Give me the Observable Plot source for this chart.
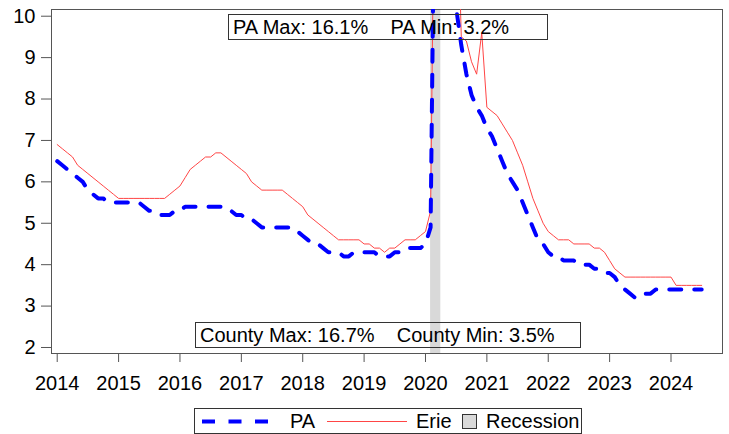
<!DOCTYPE html>
<html>
<head>
<meta charset="utf-8">
<script src="https://cdn.jsdelivr.net/npm/d3@7"></script>
<script src="https://cdn.jsdelivr.net/npm/@observablehq/plot@0.6"></script>
<style>
  html, body { margin: 0; padding: 0; background: #fff; }
  #wrap { position: relative; width: 729px; height: 434px; font-family: "Liberation Sans", Arial, sans-serif; color: #000; }
  #wrap svg text { font-family: "Liberation Sans", Arial, sans-serif; }
  .note { position: absolute; box-sizing: border-box; border: 1px solid #333; font-size: 20px; line-height: 24px; white-space: pre; padding-left: 4px; }
  #legend { position: absolute; left: 194px; top: 408px; width: 388px; height: 26px; box-sizing: border-box; border: 1px solid #333; font-size: 20px; }
  #legend .item { position: absolute; top: 0; line-height: 24px; white-space: pre; }
  #legend svg { position: absolute; top: 0; }
  g[aria-label="y-axis tick"] path, g[aria-label="x-axis tick"] path { stroke: #555; }
</style>
</head>
<body>
<div id="wrap"></div>
<script>
// Monthly data, starting January 2014
const startYear = 2014;
const paRate = [
  6.5, 6.4, 6.3, 6.2, 6.1, 6.0, 5.8, 5.7, 5.6, 5.6, 5.5, 5.5, 5.5, 5.5, 5.5, 5.5, 5.5,
  5.4, 5.3, 5.3, 5.2, 5.2, 5.2, 5.3, 5.3, 5.4,
  5.4, 5.4, 5.4, 5.4, 5.4, 5.4, 5.4,
  5.3, 5.3, 5.2, 5.2, 5.1, 5.1, 5.0, 4.9, 4.9, 4.9, 4.9, 4.9, 4.9, 4.9,
  4.8, 4.7, 4.6, 4.5, 4.5, 4.4, 4.3, 4.3, 4.3, 4.2, 4.2,
  4.3, 4.3, 4.3, 4.3, 4.3, 4.2, 4.2, 4.2, 4.3, 4.3, 4.4, 4.4, 4.4, 4.4, 4.5, 4.9,
  16.1, 13.6, 13.1, 12.3, 10.2, 9.3, 8.6, 8.1, 7.8, 7.6, 7.3, 7.1, 6.8, 6.5, 6.2, 6.0, 5.8, 5.5, 5.2, 4.9, 4.6,
  4.5, 4.3, 4.2, 4.2, 4.1, 4.1, 4.1, 4.0, 4.0, 4.0, 3.9, 3.9, 3.8, 3.8, 3.7, 3.5, 3.4, 3.3, 3.2, 3.2,
  3.3, 3.3, 3.4, 3.4, 3.4, 3.4, 3.4, 3.4, 3.4, 3.4, 3.4, 3.4
];
const erieRate = [
  6.9, 6.8, 6.7, 6.6, 6.4, 6.3, 6.2, 6.1, 6.0, 5.9, 5.8, 5.7, 5.6,
  5.6, 5.6, 5.6, 5.6, 5.6, 5.6, 5.6, 5.6, 5.6,
  5.7, 5.8, 5.9, 6.1, 6.3, 6.4, 6.5, 6.6, 6.6, 6.7, 6.7,
  6.6, 6.5, 6.4, 6.3, 6.2, 6.0, 5.9, 5.8, 5.8, 5.8, 5.8, 5.8,
  5.7, 5.6, 5.5, 5.4, 5.2, 5.1, 5.0, 4.9, 4.8, 4.7, 4.6,
  4.6, 4.6, 4.6, 4.6,
  4.5, 4.5, 4.4, 4.4, 4.3, 4.4, 4.4, 4.5, 4.6, 4.6, 4.6, 4.7, 4.8, 5.3,
  16.7, 15.2, 14.8, 14.3, 14.0,
  9.5, 9.4, 8.9, 8.6, 9.6, 7.8, 7.7, 7.6, 7.4, 7.2, 7.0, 6.7, 6.4, 6.0, 5.6, 5.3, 5.0, 4.8,
  4.7, 4.6, 4.6, 4.6, 4.5, 4.5, 4.5, 4.5, 4.4, 4.4, 4.3, 4.1, 3.9, 3.8, 3.7,
  3.7, 3.7, 3.7, 3.7, 3.7, 3.7, 3.7, 3.7, 3.7,
  3.5, 3.5, 3.5, 3.5, 3.5, 3.5
];
const recessionStart = 2020 + 1 / 12;   // Feb 2020
const recessionEnd = 2020 + 3 / 12;     // Apr 2020
const xTicks = [2014, 2015, 2016, 2017, 2018, 2019, 2020, 2021, 2022, 2023, 2024];
const yTicks = [2, 3, 4, 5, 6, 7, 8, 9, 10];
const paNote = "PA Max: 16.1%    PA Min: 3.2%";
const countyNote = "County Max: 16.7%    County Min: 3.5%";
const seriesNames = ["PA", "Erie", "Recession"];

const pa = paRate.map((v, i) => ({t: startYear + i / 12, v}));
const erie = erieRate.map((v, i) => ({t: startYear + i / 12, v}));
const recession = [{x1: recessionStart, x2: recessionEnd}];

const chart = Plot.plot({
  width: 729,
  height: 400,
  marginLeft: 51,
  marginRight: 7,
  marginTop: 9,
  marginBottom: 47,
  style: {fontSize: "20px", fontFamily: "Liberation Sans, Arial, sans-serif", color: "#000", background: "#fff", overflow: "visible"},
  x: {domain: [2013.907, 2024.839], ticks: xTicks, tickFormat: "d", tickSize: 9, tickPadding: 13, label: null, line: true},
  y: {domain: [1.855, 10.162], ticks: yTicks, tickSize: 10, tickPadding: 6, label: null, line: true},
  marks: [
    Plot.rect(recession, {x1: "x1", x2: "x2", fill: "#d9d9d9"}),
    Plot.frame({stroke: "#555"}),
    Plot.line(erie, {x: "t", y: "v", stroke: "#ff4545", strokeWidth: 1, clip: true}),
    Plot.line(pa, {x: "t", y: "v", stroke: "#0000ff", strokeWidth: 4, strokeDasharray: "12,13", clip: true})
  ]
});

const wrap = document.getElementById("wrap");
wrap.appendChild(chart);

function note(text, left, top, width) {
  const d = document.createElement("div");
  d.className = "note";
  d.textContent = text;
  Object.assign(d.style, {left: left + "px", top: top + "px", width: width + "px", height: "26px"});
  wrap.appendChild(d);
}
note(paNote, 228, 14, 320);
note(countyNote, 195, 322, 386);

// legend
const legend = document.createElement("div");
legend.id = "legend";
legend.innerHTML = `
  <svg width="80" height="24" style="left:6px"><line x1="1" x2="74" y1="12.5" y2="12.5" stroke="#0000ff" stroke-width="4" stroke-dasharray="13,13.5"/></svg>
  <div class="item" style="left:95px">${seriesNames[0]}</div>
  <svg width="82" height="24" style="left:132px"><line x1="0" x2="80" y1="12.5" y2="12.5" stroke="#ff4545" stroke-width="1"/></svg>
  <div class="item" style="left:221px">${seriesNames[1]}</div>
  <svg width="16" height="24" style="left:267px"><rect x="0.5" y="5.5" width="14" height="14" fill="#d9d9d9" stroke="#333" stroke-width="1"/></svg>
  <div class="item" style="left:291px">${seriesNames[2]}</div>`;
wrap.appendChild(legend);
</script>
</body>
</html>
